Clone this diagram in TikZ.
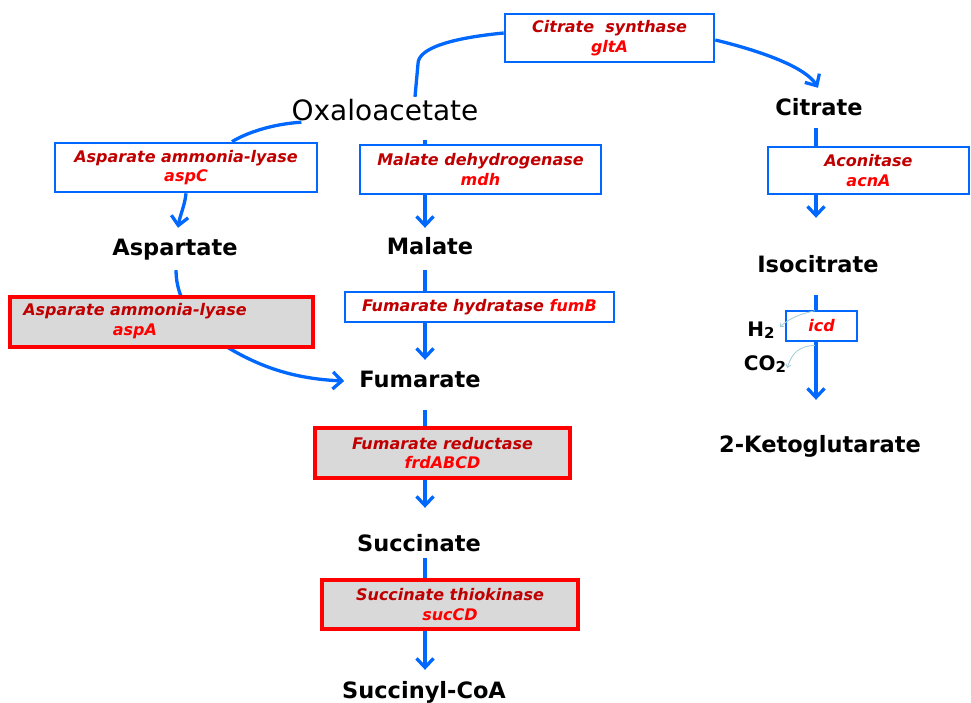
\documentclass[tikz,border=0pt]{standalone}
\usepackage{fontspec}
\setmainfont{DejaVu Sans}
\usetikzlibrary{arrows.meta,backgrounds}
\definecolor{flowblue}{RGB}{0,104,255}
\definecolor{enzdark}{RGB}{192,0,0}
\definecolor{genered}{RGB}{255,0,0}
\definecolor{boxgray}{RGB}{217,217,217}
\definecolor{gasline}{RGB}{160,205,215}
\newcommand\enzname[1]{\textcolor{enzdark}{#1}}
\newcommand\genename[1]{\textcolor{genered}{#1}}
\newcommand\subtwo{\raisebox{-2pt}{\fontsize{15}{15}\selectfont 2}}

\begin{document}
\begin{tikzpicture}[x=1pt,y=-1pt,
  met/.style={font=\fontsize{22.5}{27}\selectfont\bfseries, inner sep=0pt,
    text height=17pt, text depth=5pt},
  bigmet/.style={font=\fontsize{28}{34}\selectfont, inner sep=0pt,
    text height=21pt, text depth=6pt},
  enzfont/.style={font=\fontsize{16}{19.5}\selectfont\bfseries\itshape, align=center},
  enzblue/.style={enzfont, draw=flowblue, line width=2.6pt, fill=white, inner sep=0pt},
  enzred/.style={enzfont, draw=red, line width=3.2pt, fill=boxgray, inner sep=0pt},
  flow/.style={draw=flowblue, line width=3.3pt},
  arr/.style={flow, -{Straight Barb[length=9pt,width=17pt]}},
  gas/.style={draw=gasline, line width=0.8pt, -{Straight Barb[length=3pt,width=5pt]}},
  small/.style={font=\fontsize{20}{24}\selectfont\bfseries, inner sep=0pt}
]
\begin{pgfonlayer}{background}
\fill[white] (0,0) rectangle (971,702);
\end{pgfonlayer}
\useasboundingbox (0,0) rectangle (971,702);

% column positions of the vertical flows
\coordinate (colM) at (425,0);
\coordinate (colR) at (816,0);

% metabolites
\node[bigmet] (oxa)  at (385,112.5) {Oxaloacetate};
\node[met] (cit)  at (819,109) {Citrate};
\node[met] (asp)  at (175,249) {Aspartate};
\node[met] (mal)  at (430,248) {Malate};
\node[met] (fum)  at (420,381) {Fumarate};
\node[met] (suc)  at (419,545) {Succinate};
\node[met] (scoa) at (424,692) {Succinyl-CoA};
\node[met] (iso)  at (818,266) {Isocitrate};
\node[met] (akg)  at (820,446) {2-Ketoglutarate};
\node[small] (h2)  at (761,330) {H\subtwo};
\node[small] (co2) at (765,364) {CO\subtwo};

% enzymes
\node[enzblue, minimum width=209pt, minimum height=48pt] (gltA) at (609.5,38)
  {\enzname{Citrate\ \ synthase}\\\genename{gltA}};
\node[enzblue, minimum width=262pt, minimum height=49pt] (aspC) at (186,167.5)
  {\enzname{Asparate ammonia-lyase}\\\genename{aspC}};
\node[enzblue, minimum width=241pt, minimum height=49pt] (mdh) at (480.5,169.5)
  {\enzname{Malate dehydrogenase}\\\genename{mdh}};
\node[enzred, minimum width=303pt, minimum height=50pt] (aspA) at (161.5,322) {};
\node[enzfont, inner sep=0pt] (aspAtext) at (135,321)
  {\enzname{Asparate ammonia-lyase}\\\genename{aspA}};
\node[enzblue, minimum width=269pt, minimum height=30pt] (fumB) at (479.5,307)
  {\enzname{Fumarate hydratase} \genename{fumB}};
\node[enzred, minimum width=255pt, minimum height=50pt] (frd) at (442.5,453)
  {\enzname{Fumarate reductase}\\\genename{frdABCD}};
\node[enzred, minimum width=256pt, minimum height=49pt] (sucCD) at (450,604.5)
  {\enzname{Succinate thiokinase}\\\genename{sucCD}};
\node[enzblue, minimum width=201pt, minimum height=47pt] (acnA) at (868.5,170.5)
  {\enzname{Aconitase}\\\genename{acnA}};
\node[enzblue, minimum width=71pt, minimum height=30pt] (icd) at (821.5,326)
  {\genename{icd}};

% flows, drawn beneath the enzyme boxes
\begin{pgfonlayer}{background}
\draw[flow] ([xshift=30pt,yshift=2pt]oxa.north) -- ++(3,-33)
  .. controls (418,48) and (452,38) .. ([yshift=5pt]gltA.west);
\draw[arr] ([yshift=-2pt]gltA.east) .. controls (765,52) and (806,68)
  .. ([xshift=-1pt,yshift=10pt]cit.north);
\draw[flow] ([xshift=10pt,yshift=4pt]oxa.south west)
  .. controls (272,124) and (246,133) .. ([xshift=46pt]aspC.north);
\draw[arr] (aspC.south) .. controls (185,205) and (180,215)
  .. ([xshift=3pt,yshift=10pt]asp.north);
\draw[arr] ([xshift=1pt,yshift=-10pt]asp.south) .. controls (176,300) and (195,328)
  .. (227,347) .. controls (265,370) and (300,379) .. ([xshift=-15pt]fum.west);

\draw[arr, shorten <=14pt, shorten >=9pt] (colM |- oxa.south) -- (colM |- mal.north);
\draw[arr, shorten <=11pt, shorten >=10pt] (colM |- mal.south) -- (colM |- fum.north);
\draw[arr, shorten <=18pt, shorten >=26pt] (colM |- fum.south) -- (colM |- suc.north);
\draw[arr, shorten <=2pt, shorten >=11pt] (colM |- suc.south) -- (colM |- scoa.north);

\draw[arr, shorten <=8pt, shorten >=37pt] (colR |- cit.south) -- (colR |- iso.north);
\draw[arr, shorten <=18pt, shorten >=35pt] (colR |- iso.south) -- (colR |- akg.north);
\end{pgfonlayer}

% gases released by isocitrate dehydrogenase
\draw[gas] ([xshift=-6.5pt,yshift=-1pt]icd.north) .. controls (800,314) and (790,318)
  .. ([xshift=5pt,yshift=3pt]h2.east);
\draw[gas] ([xshift=-6.5pt,yshift=-3pt]icd.south) .. controls (800,346) and (792,352)
  .. ([xshift=1pt,yshift=-4pt]co2.east);
\end{tikzpicture}
\end{document}
